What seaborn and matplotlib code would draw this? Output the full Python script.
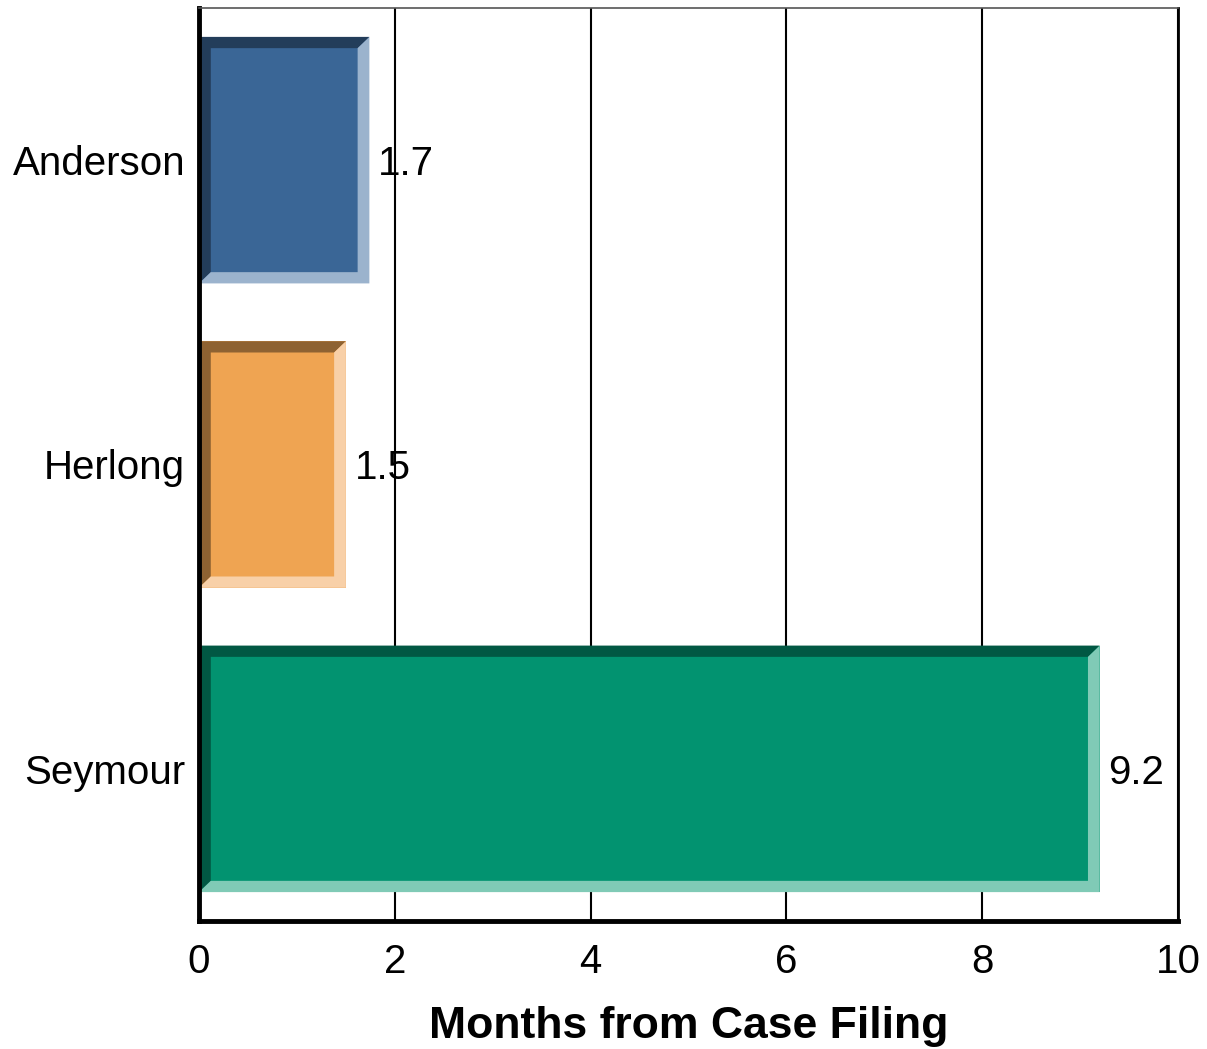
import seaborn as sns
import matplotlib.pyplot as plt
from matplotlib.patches import Polygon

judges = ["Anderson", "Herlong", "Seymour"]
months = [1.74, 1.5, 9.2]
face = ["#3A6696", "#EFA452", "#029370"]
dark = ["#233D5A", "#8E6232", "#015843"]
light = ["#9BB3CD", "#F8D0A8", "#80CAB6"]

sns.set_style("white")
plt.rcParams['font.family'] = ['Liberation Sans', 'DejaVu Sans']
plt.rcParams['text.color'] = 'black'
plt.rcParams['xtick.color'] = 'black'
plt.rcParams['ytick.color'] = 'black'
plt.rcParams['axes.labelcolor'] = 'black'

fig = plt.figure(figsize=(12.07, 10.49), dpi=100)
ax = fig.add_axes([0.1649, 0.122, 0.8111, 0.8704])

sns.barplot(x=months, y=judges, hue=judges, palette=face, orient='h',
            width=0.81, legend=False, ax=ax, linewidth=0, saturation=1,
            zorder=2)

ax.set_xlim(0, 10)
ax.set_ylim(2.5, -0.5)
ax.set_xticks([0, 2, 4, 6, 8, 10])
ax.xaxis.grid(True, color='black', linewidth=1.5)
ax.set_axisbelow(True)

# bevel edges
bx = 0.12
by = 0.037
for i, p in enumerate(ax.patches):
    x0 = p.get_x()
    x1 = x0 + p.get_width()
    yt = p.get_y()
    yb = yt + p.get_height()
    d = Polygon([(x0, yb), (x0, yt), (x1, yt), (x1 - bx, yt + by),
                 (x0 + bx, yt + by), (x0 + bx, yb - by)],
                closed=True, facecolor=dark[i], edgecolor='none', zorder=2.1)
    l = Polygon([(x1, yt), (x1, yb), (x0, yb), (x0 + bx, yb - by),
                 (x1 - bx, yb - by), (x1 - bx, yt + by)],
                closed=True, facecolor=light[i], edgecolor='none', zorder=2.1)
    ax.add_patch(d)
    ax.add_patch(l)
    ax.text(x1 + 0.09, yt + p.get_height() / 2, f"{months[i]:.1f}", fontsize=29,
            va='center_baseline', ha='left', zorder=0.3)

ax.set_xlabel("Months from Case Filing", fontsize=32, fontweight='bold', labelpad=18)
ax.set_ylabel("")
ax.tick_params(axis='x', length=0, pad=16, labelsize=29)
ax.tick_params(axis='y', length=0, pad=10, labelsize=29)

for side in ['left', 'bottom']:
    ax.spines[side].set_linewidth(3.5)
    ax.spines[side].set_color('black')
ax.spines['right'].set_linewidth(2)
ax.spines['right'].set_color('black')
ax.spines['top'].set_linewidth(1.2)
ax.spines['top'].set_color('#555555')
for s in ax.spines.values():
    s.set_zorder(3)

fig.savefig("out.png", dpi=100)
